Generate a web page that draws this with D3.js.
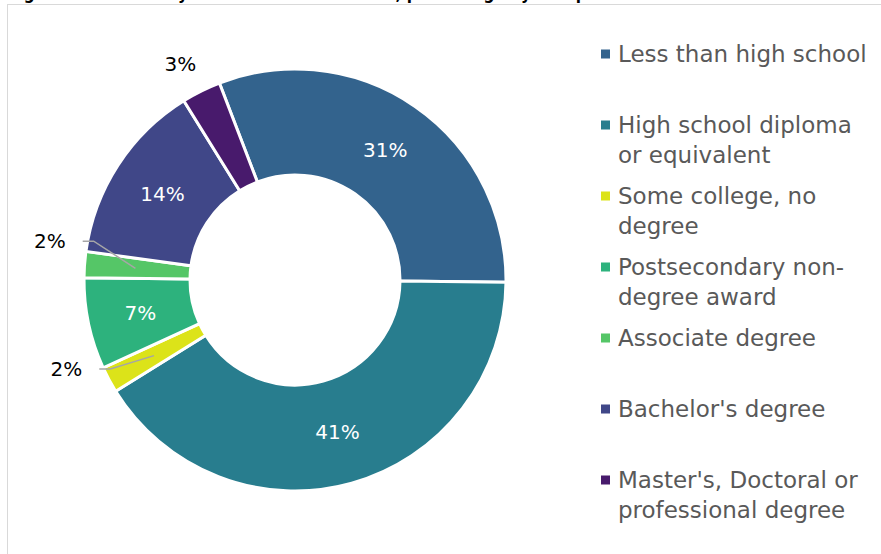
<!DOCTYPE html>
<html>
<head>
<meta charset="utf-8">
<script src="https://cdn.jsdelivr.net/npm/d3@7"></script>
<style>
  body { margin: 0; background: #fff; }
  svg { display: block; }
</style>
</head>
<body>
<div id="chart"></div>
<script>
// data
const categories = [
    "Less than high school",
    "High school diploma or equivalent",
    "Some college, no degree",
    "Postsecondary non-degree award",
    "Associate degree",
    "Bachelor's degree",
    "Master's, Doctoral or professional degree"
];
const shares = [31, 41, 2, 7, 2, 14, 3];
const legendLines = [
    ["Less than high school"],
    ["High school diploma", "or equivalent"],
    ["Some college, no", "degree"],
    ["Postsecondary non-", "degree award"],
    ["Associate degree"],
    ["Bachelor's degree"],
    ["Master's, Doctoral or", "professional degree"]
];
const colors = ["#33638d", "#287d8e", "#dce319", "#2db27d", "#55c667", "#404788", "#481a6c"];
const titleText = "Figure 4. Workers by educational attainment, percentage by occupation";

function init() {
    var w = 881; // page width
    var h = 554; // page height
    const cx = 295, cy = 280;
    const outerR = 211, innerR = 105;
    const font = "'DejaVu Sans', sans-serif";
    const titleFont = "'DejaVu Sans Condensed', 'DejaVu Sans', sans-serif";

    var svg = d3.select("#chart")
        .append("svg")
        .attr("width", w)
        .attr("height", h);

    // cut-off title at the very top
    svg.append("text")
        .attr("x", 8)
        .attr("y", -1)
        .attr("font-family", titleFont)
        .attr("font-weight", "bold")
        .attr("font-size", 17)
        .attr("fill", "#000")
        .text(titleText);

    // chart area frame
    svg.append("rect")
        .attr("x", 7.5)
        .attr("y", 4.5)
        .attr("width", w + 10)
        .attr("height", h + 10)
        .attr("fill", "none")
        .attr("stroke", "#d9d9d9")
        .attr("stroke-width", 1);

    const startAngle = -21 * Math.PI / 180;
    const pie = d3.pie()
        .sort(null)
        .startAngle(startAngle)
        .endAngle(startAngle + 2 * Math.PI)
        .value(d => d);

    const arcs = pie(shares);
    const arc = d3.arc().innerRadius(innerR).outerRadius(outerR);
    const midArc = d3.arc().innerRadius(160).outerRadius(160);

    var g = svg.append("g").attr("transform", `translate(${cx},${cy})`);

    g.selectAll("path")
        .data(arcs)
        .enter()
        .append("path")
        .attr("d", arc)
        .attr("fill", (d, i) => colors[i])
        .attr("stroke", "#fff")
        .attr("stroke-width", 3)
        .attr("stroke-linejoin", "miter");

    // big slices get a white label in the ring, small ones go outside
    arcs.forEach(function (d, i) {
        var label = shares[i] + "%";
        var mid = (d.startAngle + d.endAngle) / 2;
        if (shares[i] >= 5) {
            var c = arc.centroid(d);
            g.append("text")
                .attr("x", c[0])
                .attr("y", c[1])
                .attr("text-anchor", "middle")
                .attr("dy", "0.36em")
                .attr("font-family", font)
                .attr("font-size", 20)
                .attr("fill", "#fff")
                .text(label);
        } else if (i == 6) {
            // 3% sits just above its slice, no leader
            var r = 245;
            var a = mid - 1.5 * Math.PI / 180;
            g.append("text")
                .attr("x", Math.sin(a) * r)
                .attr("y", -Math.cos(a) * r)
                .attr("text-anchor", "middle")
                .attr("dy", "0.36em")
                .attr("font-family", font)
                .attr("font-size", 20)
                .attr("fill", "#000")
                .text(label);
        } else {
            // leader: from mid ring out to an elbow, then a short flat tail
            var inner = midArc.centroid(d);
            var turn = (i == 4 ? 6.7 : 2.5) * Math.PI / 180;
            var ea = mid + turn;
            var ex = Math.sin(ea) * 205;
            var ey = -Math.cos(ea) * 205;
            g.append("polyline")
                .attr("points", [[inner[0], inner[1]], [ex, ey], [ex - 11, ey]].map(p => p.join(",")).join(" "))
                .attr("fill", "none")
                .attr("stroke", "#a6a6a6")
                .attr("stroke-width", 1.5);
            g.append("text")
                .attr("x", ex - 28)
                .attr("y", ey)
                .attr("text-anchor", "end")
                .attr("dy", "0.36em")
                .attr("font-family", font)
                .attr("font-size", 20)
                .attr("fill", "#000")
                .text(label);
        }
    });

    // legend on the right
    var legend = svg.append("g");
    var item = legend.selectAll("g")
        .data(categories)
        .enter()
        .append("g")
        .attr("transform", (d, i) => `translate(601,${54 + i * 71})`);

    item.append("rect")
        .attr("x", 0)
        .attr("y", -4.5)
        .attr("width", 9)
        .attr("height", 9)
        .attr("fill", (d, i) => colors[i]);

    item.append("text")
        .attr("font-family", font)
        .attr("font-size", 23)
        .attr("fill", "#595959")
        .selectAll("tspan")
        .data((d, i) => legendLines[i])
        .enter()
        .append("tspan")
        .attr("x", 17)
        .attr("y", (d, j) => j * 30)
        .attr("dy", "0.36em")
        .text(d => d);
}
window.onload = init;
</script>
</body>
</html>
